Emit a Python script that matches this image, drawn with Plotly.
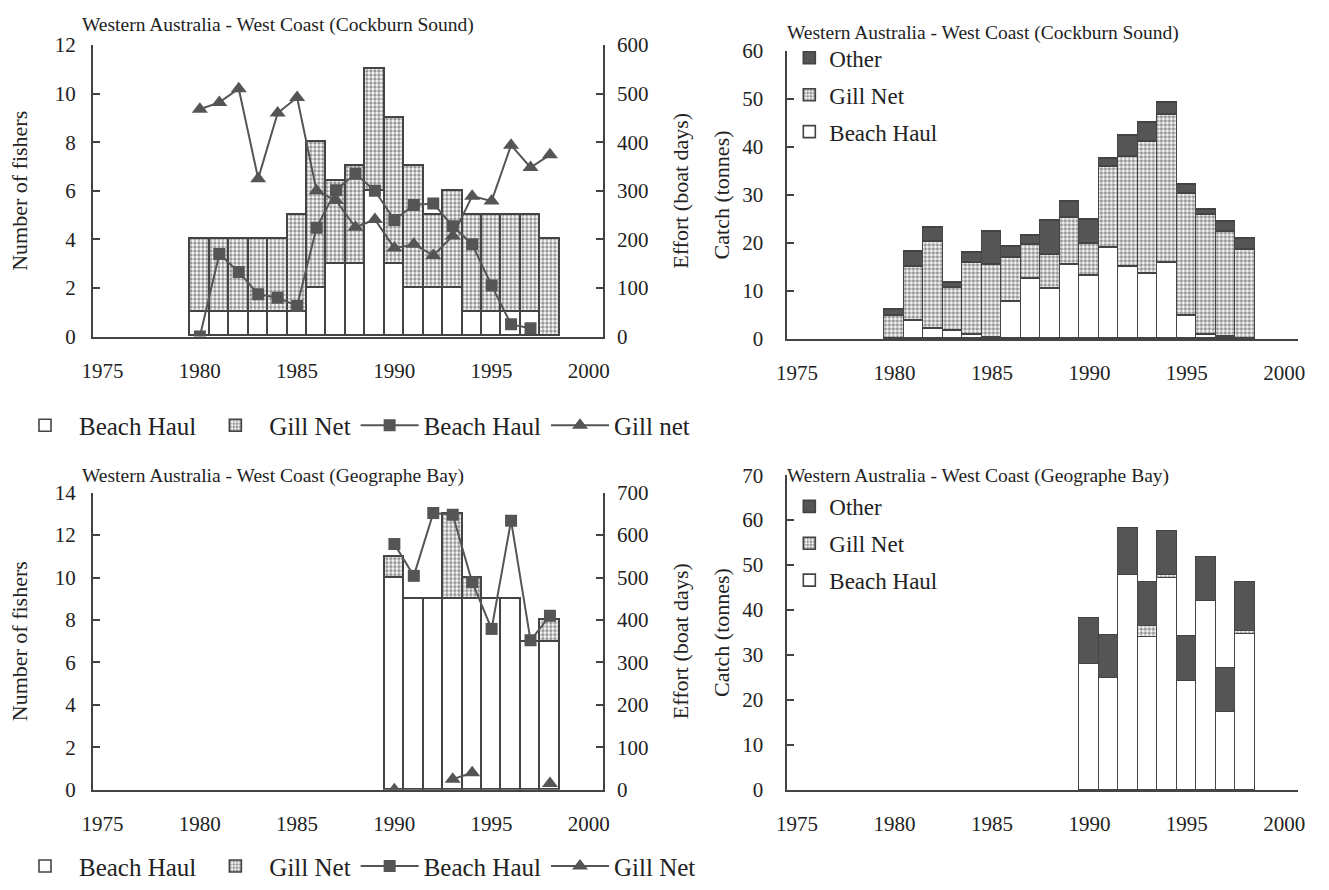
import plotly.graph_objects as go

# ---------------- data ----------------
years_cs = list(range(1980, 1999))
fishers_beach_cs = [1, 1, 1, 1, 1, 1, 2, 3, 3, 6, 3, 2, 2, 2, 1, 1, 1, 1, 0]
fishers_gill_cs = [3, 3, 3, 3, 3, 4, 6, 3.4, 4, 5, 6, 5, 3, 4, 4, 4, 4, 4, 4]
effort_beach_cs = [0, 170, 133, 87, 80, 63, 224, 301, 335, 300, 240, 271, 274, 227, 190, 105, 25, 17, None]
effort_gill_cs = [468, 482, 510, 325, 460, 492, 300, 280, 225, 241, 182, 190, 167, 207, 289, 279, 394, 348, 374]

catch_beach_cs = [0, 3.8, 2.1, 1.7, 0.9, 0.3, 7.7, 12.5, 10.5, 15.4, 13.2, 19.0, 15.1, 13.5, 15.8, 4.7, 0.9, 0.4, 0]
catch_gill_cs = [4.7, 11.1, 18.2, 9.0, 15.0, 15.1, 9.1, 7.1, 7.1, 9.8, 6.6, 16.9, 22.8, 27.6, 30.9, 25.5, 24.9, 21.8, 18.5]
catch_other_cs = [1.4, 3.2, 2.8, 1.0, 2.1, 6.9, 2.4, 1.9, 6.9, 3.3, 4.9, 1.7, 4.4, 3.9, 2.5, 1.8, 1.0, 2.2, 2.3]

years_gb = list(range(1990, 1999))
fishers_beach_gb = [10, 9, 9, 9, 9, 9, 9, 7, 7]
fishers_gill_gb = [1, 0, 0, 4, 1, 0, 0, 0, 1]
effort_beach_gb = [579, 504, 652, 648, 489, 379, 634, 352, 410]
effort_gill_gb = [0, None, None, 25, 40, None, None, None, 15]

catch_beach_gb = [27.9, 24.8, 47.8, 34.0, 47.1, 24.3, 42.0, 17.4, 34.7]
catch_gill_gb = [0, 0, 0, 2.4, 0.7, 0, 0, 0, 0.6]
catch_other_gb = [10.4, 9.6, 10.5, 9.7, 9.7, 9.8, 9.8, 9.6, 11.0]

year_ticks = [1975, 1980, 1985, 1990, 1995, 2000]

# ---------------- styles ----------------
FONT = "Liberation Serif"
INK = "#222222"
EDGE = "#444444"
DARK = "#555555"
DOTS = dict(shape=".", fgcolor="#262626", bgcolor="white", size=4, solidity=0.55)

W, H = 1329, 890


def px_x(v):
    return v / W


def px_y(v):
    return 1 - v / H


fig = go.Figure()


def bar(x, y, name, xa, ya, legend, fill, rank, pattern=None):
    marker = dict(color=fill, line=dict(color=EDGE, width=1.6))
    if pattern:
        marker["pattern"] = pattern
    fig.add_trace(go.Bar(x=x, y=y, name=name, width=1, marker=marker,
                         xaxis=xa, yaxis=ya, legend=legend, legendrank=rank,
                         legendgroup=legend + str(rank)))


def line(x, y, name, xa, ya, legend, symbol, size, rank):
    fig.add_trace(go.Scatter(x=x, y=y, name=name, mode="lines+markers",
                             line=dict(color=DARK, width=2),
                             marker=dict(symbol=symbol, size=size, color=DARK),
                             xaxis=xa, yaxis=ya, legend=legend, legendrank=rank,
                             legendgroup=legend + str(rank)))


# Cockburn Sound: fishers (bars) and effort (lines)
bar(years_cs, fishers_beach_cs, "Beach Haul", "x", "y", "legend", "white", 1)
bar(years_cs, fishers_gill_cs, "Gill Net", "x", "y", "legend", "white", 2, DOTS)
line(years_cs, effort_beach_cs, "Beach Haul", "x", "y2", "legend", "square", 12, 3)
line(years_cs, effort_gill_cs, "Gill net", "x", "y2", "legend", "triangle-up", 14, 4)

# Cockburn Sound: catch
bar(years_cs, catch_beach_cs, "Beach Haul", "x3", "y3", "legend2", "white", 3)
bar(years_cs, catch_gill_cs, "Gill Net", "x3", "y3", "legend2", "white", 2, DOTS)
bar(years_cs, catch_other_cs, "Other", "x3", "y3", "legend2", DARK, 1)

# Geographe Bay: fishers and effort
bar(years_gb, fishers_beach_gb, "Beach Haul", "x4", "y4", "legend3", "white", 1)
bar(years_gb, fishers_gill_gb, "Gill Net", "x4", "y4", "legend3", "white", 2, DOTS)
line(years_gb, effort_beach_gb, "Beach Haul", "x4", "y5", "legend3", "square", 12, 3)
line(years_gb, effort_gill_gb, "Gill Net", "x4", "y5", "legend3", "triangle-up", 14, 4)

# Geographe Bay: catch
bar(years_gb, catch_beach_gb, "Beach Haul", "x6", "y6", "legend4", "white", 3)
bar(years_gb, catch_gill_gb, "Gill Net", "x6", "y6", "legend4", "white", 2, DOTS)
bar(years_gb, catch_other_gb, "Other", "x6", "y6", "legend4", DARK, 1)

tickfont = dict(family=FONT, size=21, color=INK)
titlefont = dict(family=FONT, size=22, color=INK)

XRANGE = [1974.5, 2000.72]
left_dom = [px_x(83), px_x(600)]
right_dom = [px_x(787), px_x(1305)]


def xaxis(dom, anchor):
    return dict(domain=dom, anchor=anchor, range=XRANGE, tickvals=year_ticks,
                showline=True, linecolor=EDGE, linewidth=2, ticks="",
                ticklabelstandoff=14, tickfont=tickfont, showgrid=False,
                zeroline=False, fixedrange=True)


def yaxis(dom, rng, dtick, title, side="left", overlay=None, anchor=None,
          standoff=10, tstand=8):
    d = dict(range=rng, dtick=dtick, side=side, showline=True, linecolor=EDGE,
             linewidth=2, ticks="inside", ticklen=7, tickwidth=1.5,
             tickcolor=EDGE, tickfont=tickfont, showgrid=False, zeroline=False,
             ticklabelstandoff=tstand,
             title=dict(text=title, font=titlefont, standoff=standoff))
    if overlay:
        d["overlaying"] = overlay
    else:
        d["domain"] = dom
    d["anchor"] = anchor
    return d


top_l = [px_y(333.5), px_y(34)]
top_r = [px_y(336), px_y(40)]
bot_l = [px_y(799.3), px_y(494)]
bot_r = [px_y(799.5), px_y(476)]

row_legend = dict(font=dict(family=FONT, size=25, color=INK),
                  bgcolor="rgba(0,0,0,0)", itemclick=False,
                  traceorder="grouped", itemwidth=58,
                  orientation="h", xanchor="left", yanchor="middle")
box_legend = dict(font=dict(family=FONT, size=23, color=INK),
                  bgcolor="rgba(0,0,0,0)", itemclick=False,
                  traceorder="grouped", tracegroupgap=4,
                  orientation="v", xanchor="left", yanchor="top")

fig.update_layout(
    width=W, height=H,
    margin=dict(l=0, r=0, t=0, b=0),
    paper_bgcolor="white", plot_bgcolor="white",
    barmode="stack", bargap=0,
    font=dict(family=FONT, color=INK),
    xaxis=xaxis(left_dom, "y"),
    yaxis=yaxis(top_l, [0, 12], 2, "Number of fishers", anchor="x",
                standoff=21, tstand=11),
    yaxis2=yaxis(None, [0, 600], 100, "Effort (boat days)", side="right",
                 overlay="y", anchor="x", standoff=25, tstand=8),
    xaxis3=xaxis(right_dom, "y3"),
    yaxis3=yaxis(top_r, [0, 60], 10, "Catch (tonnes)", anchor="x3",
                 standoff=6, tstand=18),
    xaxis4=xaxis(left_dom, "y4"),
    yaxis4=yaxis(bot_l, [0, 14], 2, "Number of fishers", anchor="x4",
                 standoff=21, tstand=11),
    yaxis5=yaxis(None, [0, 700], 100, "Effort (boat days)", side="right",
                 overlay="y4", anchor="x4", standoff=25, tstand=8),
    xaxis6=xaxis(right_dom, "y6"),
    yaxis6=yaxis(bot_r, [0, 70], 10, "Catch (tonnes)", anchor="x6",
                 standoff=6, tstand=18),
    legend=dict(x=0, y=px_y(425), **row_legend),
    legend2=dict(x=px_x(789), y=px_y(25), **box_legend),
    legend3=dict(x=0, y=px_y(878), **row_legend),
    legend4=dict(x=px_x(789), y=px_y(486), **box_legend),
)

title_font = dict(family=FONT, size=19.5, color=INK)
for text, x, y in [
    ("Western Australia - West Coast (Cockburn Sound)", 70, 13),
    ("Western Australia - West Coast (Cockburn Sound)", 785, 22),
    ("Western Australia - West Coast (Geographe Bay)", 70, 477),
    ("Western Australia - West Coast (Geographe Bay)", 785, 477),
]:
    fig.add_annotation(text=text, x=px_x(x), y=px_y(y), xref="paper",
                       yref="paper", xanchor="left", yanchor="middle",
                       showarrow=False, font=title_font)

fig.write_html("out.html")
